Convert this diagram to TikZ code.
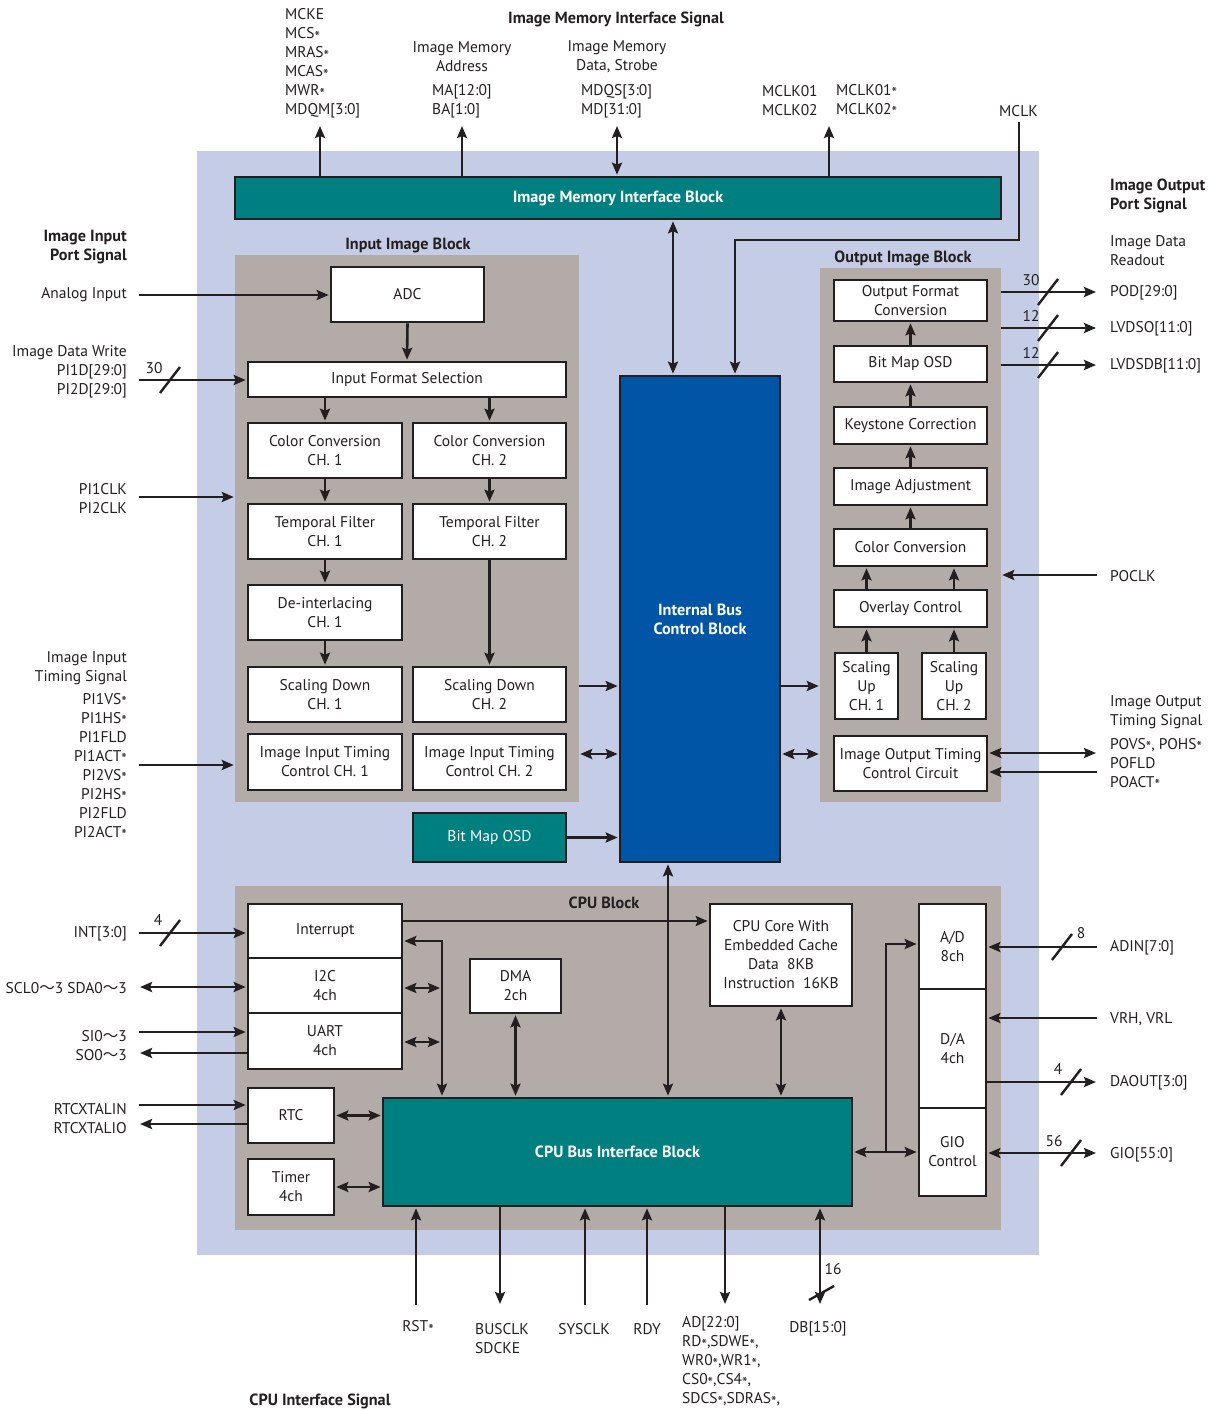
\documentclass[tikz,border=0pt]{standalone}
\usepackage{fontspec}
\setmainfont{PT Sans}
\newfontfamily\cjk{Noto Sans CJK JP}
\usetikzlibrary{arrows.meta,calc}
\definecolor{bgblue}{HTML}{C5CDE6}
\definecolor{greyc}{HTML}{B3ABA8}
\definecolor{tealc}{HTML}{007F80}
\definecolor{bblue}{HTML}{0055A6}
\definecolor{ink}{HTML}{231F20}
\newcommand\wv{{\cjk 〜}}
\newcommand\sx{\raisebox{-0.22em}{*}}
\newcommand\bx[7]{\node[#6, minimum width={#4-#2}, minimum height={#5-#3}] (#1) at ({(#2+#4)/2},{(#3+#5)/2}) {#7};}
\begin{document}
\begin{tikzpicture}[x=1pt,y=-1pt,
  every node/.style={font=\fontsize{15.5}{19}\selectfont, text=ink, inner sep=0pt},
  box/.style={draw=ink, line width=2.6pt, fill=white, align=center},
  tealbox/.style={draw=ink, line width=2.6pt, fill=tealc, align=center, text=white},
  bf/.style={font=\fontsize{16.2}{19}\selectfont\bfseries},
  arr/.style={draw=ink, line width=2.6pt, shorten >=1pt, -{Stealth[length=12pt,width=10pt,inset=2pt]}},
  darr/.style={draw=ink, line width=2.6pt, shorten >=1pt, shorten <=1pt, {Stealth[length=12pt,width=10pt,inset=2pt]}-{Stealth[length=12pt,width=10pt,inset=2pt]}},
  slash/.style={draw=ink, line width=2.4pt},
  lbl/.style={align=left, anchor=west},
  rlbl/.style={align=right, anchor=east},
]
\useasboundingbox (0,0) rectangle (1213,1410);
\fill[bgblue] (197,151) rectangle (1039,1255);

% grey areas
\bx{ingrey}{235}{255}{579}{802}{fill=greyc}{}
\bx{outgrey}{820}{268}{1001}{802}{fill=greyc}{}
\bx{cpugrey}{235}{886}{1001}{1230}{fill=greyc}{}

% main blocks
\bx{imib}{235}{177}{1001}{219}{tealbox,bf}{Image Memory Interface Block}
\bx{ibus}{620}{376}{780}{862}{draw=ink,line width=2.6pt,fill=bblue,text=white,align=center,bf}{Internal Bus\\Control Block}

% input image block
\bx{adc}{331}{267}{484}{322}{box}{ADC}
\bx{ifs}{248}{362}{566}{397}{box}{Input Format Selection}
\bx{cc1}{248}{423}{402}{478}{box}{Color Conversion\\CH. 1}
\bx{cc2}{413}{423}{566}{478}{box}{Color Conversion\\CH. 2}
\bx{tf1}{248}{504}{402}{559}{box}{Temporal Filter\\CH. 1}
\bx{tf2}{413}{504}{566}{559}{box}{Temporal Filter\\CH. 2}
\bx{di1}{248}{585}{402}{640}{box}{De-interlacing\\CH. 1}
\bx{sd1}{248}{667}{402}{722}{box}{Scaling Down\\CH. 1}
\bx{sd2}{413}{667}{566}{722}{box}{Scaling Down\\CH. 2}
\bx{it1}{248}{734}{402}{790}{box}{Image Input Timing\\Control CH. 1}
\bx{it2}{413}{734}{566}{790}{box}{Image Input Timing\\Control CH. 2}
\bx{bmi}{413}{813}{566}{862}{tealbox}{Bit Map OSD}

% output image block
\bx{ofc}{834}{280}{987}{321}{box}{Output Format\\Conversion}
\bx{obm}{834}{346}{987}{382}{box}{Bit Map OSD}
\bx{kc}{834}{407}{987}{444}{box}{Keystone Correction}
\bx{ia}{834}{468}{987}{505}{box}{Image Adjustment}
\bx{occ}{834}{529}{987}{566}{box}{Color Conversion}
\bx{ovl}{834}{590}{987}{627}{box}{Overlay Control}
\bx{su1}{835}{653}{898}{719}{box}{Scaling\\Up\\CH. 1}
\bx{su2}{922}{653}{986}{719}{box}{Scaling\\Up\\CH. 2}
\bx{iotc}{834}{736}{987}{791}{box}{Image Output Timing\\Control Circuit}

% CPU block
\bx{intr}{248}{904}{402}{958}{box}{Interrupt}
\bx{i2c}{248}{958}{402}{1013}{box}{I2C\\4ch}
\bx{uart}{248}{1013}{402}{1069}{box}{UART\\4ch}
\bx{dma}{470}{959}{561}{1013}{box}{DMA\\2ch}
\bx{core}{710}{904}{852}{1006}{box}{CPU Core With\\Embedded Cache\\Data\ \ 8KB\\Instruction\ \ 16KB}
\bx{rtc}{248}{1088}{334}{1143}{box}{RTC}
\bx{tmr}{248}{1159}{334}{1215}{box}{Timer\\4ch}
\bx{cbus}{383}{1098}{852}{1206}{tealbox,bf}{CPU Bus Interface Block}
\bx{ad}{919}{904}{986}{989}{box}{A/D\\8ch}
\bx{da}{919}{989}{986}{1108}{box}{D/A\\4ch}
\bx{gio}{919}{1108}{986}{1196}{box}{GIO\\Control}

% headings
\node[bf] (hIMIS) at (616,19) {Image Memory Interface Signal};
\node[bf] (hIIB) at (408,245) {Input Image Block};
\node[bf] (hOIB) at (903,258) {Output Image Block};
\node[bf] (hCPU) at (604,903) {CPU Block};
\node[bf,rlbl] (hIIPS) at (127,247.5) {Image Input\\Port Signal};
\node[bf,lbl] (hIOPS) at (1110,196) {Image Output\\Port Signal};
\node[bf] (hCIS) at (320,1401) {CPU Interface Signal};

% top labels
\node[lbl] (lmck) at (285,63.5) {MCKE\\MCS\sx\\MRAS\sx\\MCAS\sx\\MWR\sx\\MDQM[3:0]};
\node[align=center] (limad) at (462,56.5) {Image Memory\\Address};
\node[lbl] (lma) at (432,101) {MA[12:0]\\BA[1:0]};
\node[align=center] (limds) at (617,56.5) {Image Memory\\Data, Strobe};
\node[lbl] (lmd) at (581,101) {MDQS[3:0]\\MD[31:0]};
\node[lbl] (lmc1) at (762,101) {MCLK01\\MCLK02};
\node[lbl] (lmc2) at (836,101) {MCLK01\sx\\MCLK02\sx};
\node[lbl] (lmclk) at (999,111) {MCLK};

% left labels
\node[rlbl] (lain) at (127,295) {Analog Input};
\node[rlbl] (lidw) at (127,372) {Image Data Write\\PI1D[29:0]\\PI2D[29:0]};
\node[rlbl] (lpclk) at (127,498.5) {PI1CLK\\PI2CLK};
\node[rlbl] (liits) at (127,668.5) {Image Input\\Timing Signal};
\node[rlbl] (lpi) at (127,767) {PI1VS\sx\\PI1HS\sx\\PI1FLD\\PI1ACT\sx\\PI2VS\sx\\PI2HS\sx\\PI2FLD\\PI2ACT\sx};
\node[rlbl] (lint) at (127,934) {INT[3:0]};
\node[rlbl] (lscl) at (127,988) {SCL0\wv3 SDA0\wv3};
\node[rlbl] (lsi) at (127,1045.5) {SI0\wv3\\SO0\wv3};
\node[rlbl] (lrtc) at (127,1118.5) {RTCXTALIN\\RTCXTALIO};

% right labels
\node[lbl] (lidr) at (1110,251) {Image Data\\Readout};
\node[lbl] (lpod) at (1110,293) {POD[29:0]};
\node[lbl] (llvo) at (1110,329) {LVDSO[11:0]};
\node[lbl] (llvb) at (1110,366) {LVDSDB[11:0]};
\node[lbl] (lpoclk) at (1110,576) {POCLK};
\node[lbl] (liots) at (1110,712.5) {Image Output\\Timing Signal};
\node[lbl] (lpov) at (1110,764.5) {POVS\sx, POHS\sx\\POFLD\\POACT\sx};
\node[lbl] (ladin) at (1110,948) {ADIN[7:0]};
\node[lbl] (lvrh) at (1110,1019) {VRH, VRL};
\node[lbl] (ldao) at (1110,1083) {DAOUT[3:0]};
\node[lbl] (lgio) at (1110,1155) {GIO[55:0]};

% bottom labels
\node (lrst) at (418,1328) {RST\sx};
\node[lbl] (lbclk) at (475,1338.5) {BUSCLK\\SDCKE};
\node (lsys) at (584,1329) {SYSCLK};
\node (lrdy) at (647,1329) {RDY};
\node[lbl] (lad) at (682,1362) {AD[22:0]\\RD\sx,SDWE\sx,\\WR0\sx,WR1\sx,\\CS0\sx,CS4\sx,\\SDCS\sx,SDRAS\sx,};
\node (ldb) at (818,1329) {DB[15:0]};

% bus width numbers
\node (n30a) at (154,368) {30};
\node (n30b) at (1031,280) {30};
\node (n12a) at (1031,316) {12};
\node (n12b) at (1031,353) {12};
\node (n4a) at (158,920) {4};
\node (n8) at (1081,933) {8};
\node (n4b) at (1058,1069) {4};
\node (n56) at (1054,1141) {56};
\node (n16) at (833,1269) {16};

% coordinates of free ends and levels
\coordinate (t1) at (320,125);
\coordinate (t2) at (462,125);
\coordinate (t3) at (617,125);
\coordinate (t4) at (829,125);
\coordinate (mclk) at (1019,122);
\coordinate (mk1) at (1019,240);
\coordinate (mk2) at (735,240);
\coordinate (mx) at (673,0);
\coordinate (ain) at (139,295);
\coordinate (pid) at (139,380);
\coordinate (pclk) at (139,497);
\coordinate (pits) at (139,765);
\coordinate (y686) at (0,686);
\coordinate (y754) at (0,754);
\coordinate (pod) at (1097,292);
\coordinate (lvo) at (1097,328);
\coordinate (lvb) at (1097,365);
\coordinate (poclk) at (1097,575);
\coordinate (pov) at (1097,753);
\coordinate (pof) at (1097,772);
\coordinate (mv) at (668,0);
\coordinate (yint) at (0,921);
\coordinate (bxc) at (442,941);
\coordinate (y988) at (441,988);
\coordinate (y1042) at (441,1042);
\coordinate (gx) at (886,1152);
\coordinate (ya) at (0,944);
\coordinate (int) at (139,933);
\coordinate (scl) at (139,987);
\coordinate (si) at (139,1032);
\coordinate (so) at (139,1053);
\coordinate (rin) at (139,1105);
\coordinate (rio) at (139,1124);
\coordinate (adin) at (1097,947);
\coordinate (vrh) at (1097,1018);
\coordinate (dao) at (1097,1082);
\coordinate (gioo) at (1097,1153);
\coordinate (rst) at (416,1305);
\coordinate (bclk) at (500,1305);
\coordinate (sys) at (585,1305);
\coordinate (rdy) at (647,1305);
\coordinate (adb) at (725,1305);
\coordinate (dbb) at (820,1305);

% top connectors
\draw[arr] (imib.north -| t1) -- (t1);
\draw[arr] (imib.north -| t2) -- (t2);
\draw[darr] (imib.north -| t3) -- (t3);
\draw[arr] (imib.north -| t4) -- (t4);
\draw[arr, line join=miter] (mclk) -- (mk1) -- (mk2) -- (ibus.north -| mk2);
\draw[darr] (imib.south -| mx) -- (ibus.north -| mx);

% input side
\draw[arr] (ain) -- (adc.west |- ain);
\draw[arr] (pid) -- (ifs.west |- pid);
\draw[arr] (pclk) -- (ingrey.west |- pclk);
\draw[arr] (pits) -- (ingrey.west |- pits);
\draw[arr] (adc.south) -- (ifs.north);
\draw[arr] (ifs.south -| cc1) -- (cc1.north);
\draw[arr] (ifs.south -| cc2) -- (cc2.north);
\draw[arr] (cc1.south) -- (tf1.north);
\draw[arr] (cc2.south) -- (tf2.north);
\draw[arr] (tf1.south) -- (di1.north);
\draw[arr] (di1.south) -- (sd1.north);
\draw[arr] (tf2.south) -- (sd2.north);
\draw[arr] (ingrey.east |- y686) -- (ibus.west |- y686);
\draw[darr] (ingrey.east |- y754) -- (ibus.west |- y754);
\draw[arr] (bmi.east) -- (ibus.west |- bmi.east);

% output side
\draw[arr] (ibus.east |- y686) -- (outgrey.west |- y686);
\draw[darr] (ibus.east |- y754) -- (outgrey.west |- y754);
\draw[arr] (obm.north) -- (ofc.south);
\draw[arr] (kc.north) -- (obm.south);
\draw[arr] (ia.north) -- (kc.south);
\draw[arr] (occ.north) -- (ia.south);
\draw[arr] (ovl.north -| su1) -- (occ.south -| su1);
\draw[arr] (ovl.north -| su2) -- (occ.south -| su2);
\draw[arr] (su1.north) -- (ovl.south -| su1);
\draw[arr] (su2.north) -- (ovl.south -| su2);
\draw[arr] (outgrey.east |- pod) -- (pod);
\draw[arr] (outgrey.east |- lvo) -- (lvo);
\draw[arr] (outgrey.east |- lvb) -- (lvb);
\draw[arr] (poclk) -- (outgrey.east |- poclk);
\draw[darr] (iotc.east |- pov) -- (pov);
\draw[arr] (pof) -- (iotc.east |- pof);

% bus to CPU
\draw[darr] (ibus.south -| mv) -- (cbus.north -| mv);

% CPU internal
\draw[arr] (intr.east |- yint) -- (core.west |- yint);
\draw[darr, line join=miter] (intr.east |- bxc) -- (bxc) -- (cbus.north -| bxc);
\draw[darr] (i2c.east |- y988) -- (y988);
\draw[darr] (uart.east |- y1042) -- (y1042);
\draw[darr] (dma.south) -- (cbus.north -| dma.south);
\draw[darr] (core.south) -- (cbus.north -| core.south);
\draw[darr] (rtc.east) -- (cbus.west |- rtc.east);
\draw[darr] (tmr.east) -- (cbus.west |- tmr.east);
\draw[darr] (cbus.east |- gio) -- (gio.west);
\draw[arr, line join=miter] (gx) |- (ad.west |- ya);

% CPU left
\draw[arr] (int) -- (intr.west |- int);
\draw[darr] (scl) -- (i2c.west |- scl);
\draw[arr] (si) -- (uart.west |- si);
\draw[arr] (uart.west |- so) -- (so);
\draw[arr] (rin) -- (rtc.west |- rin);
\draw[arr] (rtc.west |- rio) -- (rio);

% CPU right
\draw[arr] (adin) -- (ad.east |- adin);
\draw[arr] (vrh) -- (da.east |- vrh);
\draw[arr] (da.east |- dao) -- (dao);
\draw[darr] (gio.east |- gioo) -- (gioo);

% CPU bottom
\draw[arr] (rst) -- (cbus.south -| rst);
\draw[arr] (cbus.south -| bclk) -- (bclk);
\draw[arr] (sys) -- (cbus.south -| sys);
\draw[arr] (rdy) -- (cbus.south -| rdy);
\draw[arr] (cbus.south -| adb) -- (adb);
\draw[darr] (cbus.south -| dbb) -- (dbb);

% bus-width slashes
\draw[slash] (160,393) -- (180,367);
\draw[slash] (1038,305) -- (1058,279);
\draw[slash] (1038,341) -- (1058,315);
\draw[slash] (1038,378) -- (1058,352);
\draw[slash] (160,946) -- (180,920);
\draw[slash] (1052,960) -- (1072,934);
\draw[slash] (1061,1095) -- (1081,1069);
\draw[slash] (1061,1166) -- (1081,1140);
\draw[slash] (809,1300) -- (834,1286);
\end{tikzpicture}
\end{document}
